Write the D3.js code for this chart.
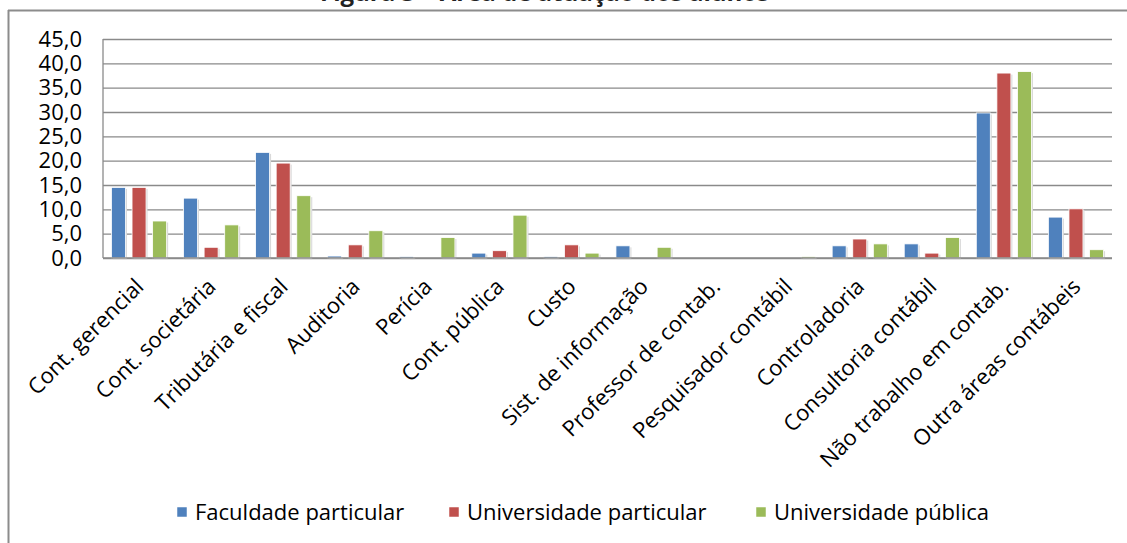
<!DOCTYPE html>
<html>
<head>
<meta charset="utf-8">
<script src="https://cdn.jsdelivr.net/npm/d3@7"></script>
<style>
  html, body { margin: 0; padding: 0; background: #fff; }
  svg { display: block; }
  text { font-family: "Open Sans", sans-serif; fill: #000; }
</style>
</head>
<body>
<svg id="chart" width="1127" height="543"></svg>
<script>
const titleText = "Figura 3 – Área de atuação dos alunos";
const categories = ["Cont. gerencial", "Cont. societária", "Tributária e fiscal", "Auditoria", "Perícia", "Cont. pública", "Custo", "Sist. de informação", "Professor de contab.", "Pesquisador contábil", "Controladoria", "Consultoria contábil", "Não trabalho em contab.", "Outra áreas contábeis"];
const seriesNames = ["Faculdade particular", "Universidade particular", "Universidade pública"];
const faculdadeParticular = [14.5, 12.3, 21.7, 0.4, 0.3, 1.0, 0.3, 2.5, 0, 0, 2.5, 2.9, 29.8, 8.4];
const universidadeParticular = [14.5, 2.2, 19.5, 2.7, 0, 1.5, 2.7, 0, 0, 0, 3.9, 1.0, 38.0, 10.1];
const universidadePublica = [7.6, 6.8, 12.8, 5.6, 4.2, 8.8, 1.0, 2.2, 0, 0.3, 2.9, 4.2, 38.3, 1.7];
const yTicks = [0, 5, 10, 15, 20, 25, 30, 35, 40, 45];
const colors = ["#4f81bd", "#c0504d", "#9bbb59"];

const seriesValues = [faculdadeParticular, universidadeParticular, universidadePublica];
const svg = d3.select("#chart");

// frame
svg.append("line").attr("x1", 8.5).attr("x2", 8.5).attr("y1", 10).attr("y2", 543)
  .attr("stroke", "#8c8c8c").attr("stroke-width", 2);
svg.append("line").attr("x1", 8).attr("x2", 1127).attr("y1", 10.5).attr("y2", 10.5)
  .attr("stroke", "#8c8c8c").attr("stroke-width", 2);

// title (cut off at top)
svg.append("text").attr("x", 320).attr("y", 1)
  .style("font-size", "24px").style("font-weight", "bold").style("fill", "#222")
  .text(titleText);

const plotLeft = 103, plotRight = 1112, plotTop = 39, plotBottom = 258;
const x0 = d3.scaleBand().domain(categories).range([plotLeft, plotRight]).padding(0);
const x1 = d3.scaleBand().domain(d3.range(3)).range([0, x0.bandwidth()])
  .paddingInner(0.32).paddingOuter(0.41);
const y = d3.scaleLinear().domain([0, 45]).range([plotBottom, plotTop]);

// gridlines
const yAxis = d3.axisLeft(y).tickValues(yTicks).tickSize(-(plotRight - plotLeft))
  .tickPadding(21).tickFormat(d => d3.format(".1f")(d).replace(".", ","));
const gy = svg.append("g").attr("transform", `translate(${plotLeft},0)`).call(yAxis);
gy.select(".domain").remove();
gy.selectAll(".tick line").attr("stroke", "#8a8a8a").attr("stroke-width", 1.3);
gy.selectAll(".tick text").style("font-size", "22px").style("font-family", "'Open Sans', sans-serif").attr("fill", "#000");

// left axis line
svg.append("line").attr("x1", plotLeft).attr("x2", plotLeft).attr("y1", y(45)).attr("y2", y(0))
  .attr("stroke", "#8a8a8a").attr("stroke-width", 1.3);

// bars
const rows = categories.map((c, i) => ({ cat: c, vals: seriesValues.map((s, k) => ({ k, v: s[i] })) }));
const groups = svg.append("g").selectAll("g").data(rows).join("g")
  .attr("transform", d => `translate(${x0(d.cat)},0)`);
// shadow
groups.selectAll("rect.shadow").data(d => d.vals.filter(e => e.v > 0)).join("rect")
  .attr("class", "shadow")
  .attr("x", e => x1(e.k) + 1.5).attr("y", e => y(e.v) + 1.5)
  .attr("width", x1.bandwidth()).attr("height", e => y(0) - y(e.v))
  .attr("fill", "#d9d9d9");
groups.selectAll("rect.bar").data(d => d.vals.filter(e => e.v > 0)).join("rect")
  .attr("class", "bar")
  .attr("x", e => x1(e.k)).attr("y", e => y(e.v))
  .attr("width", x1.bandwidth()).attr("height", e => y(0) - y(e.v))
  .attr("fill", e => colors[e.k]).attr("stroke", "#ffffff").attr("stroke-width", 0.8);

// x axis baseline
svg.append("line").attr("x1", plotLeft).attr("x2", plotRight).attr("y1", y(0)).attr("y2", y(0))
  .attr("stroke", "#8a8a8a").attr("stroke-width", 1.3);

// x labels
svg.append("g").selectAll("text").data(categories).join("text")
  .attr("transform", d => `translate(${x0(d) + x0.bandwidth() / 2 + 6},${y(0) + 30}) rotate(-45)`)
  .attr("text-anchor", "end")
  .style("font-size", "22px")
  .text(d => d);

// legend
const legendX = [177, 449, 756];
const lg = svg.append("g").selectAll("g").data(seriesNames).join("g")
  .attr("transform", (d, i) => `translate(${legendX[i]},512)`);
lg.append("rect").attr("x", 0).attr("y", -5).attr("width", 10).attr("height", 10)
  .attr("fill", (d, i) => colors[i]).attr("stroke", "#fff").attr("stroke-width", 0.5);
lg.append("text").attr("x", 18).attr("y", 8).style("font-size", "22px").text(d => d);
</script>
</body>
</html>
